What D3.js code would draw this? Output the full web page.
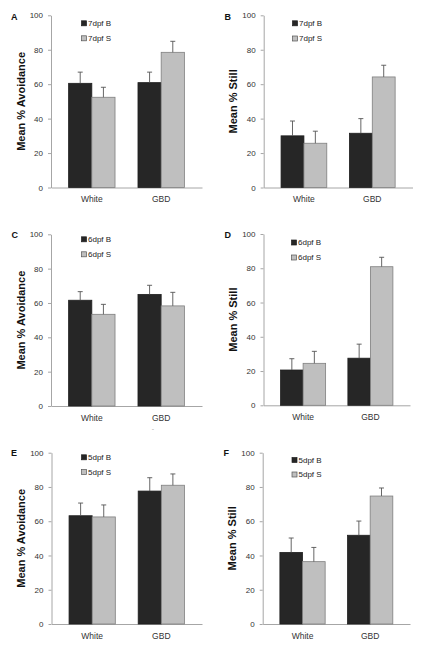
<!DOCTYPE html>
<html>
<head>
<meta charset="utf-8">
<script src="https://cdn.jsdelivr.net/npm/d3@7"></script>
<style>
  html, body { margin: 0; padding: 0; background: #fff; }
  svg { display: block; }
  text { font-family: "Liberation Sans", Arial, sans-serif; }
</style>
</head>
<body>
<svg id="chart" width="432" height="645"></svg>
<script>
// ---------- DATA ----------
const categories = ["White", "GBD"];
const yTicks = [0, 20, 40, 60, 80, 100];
const panelLetters = ["A", "B", "C", "D", "E", "F"];
const yTitles = ["Mean % Avoidance", "Mean % Still", "Mean % Avoidance", "Mean % Still", "Mean % Avoidance", "Mean % Still"];
const legendA = ["7dpf B", "7dpf S"];
const legendC = ["6dpf B", "6dpf S"];
const legendE = ["5dpf B", "5dpf S"];

// Panel A: 7dpf avoidance
const aMeanB = [60.5, 60.9], aMeanS = [52.4, 78.5];
const aErrB = [6.5, 6.1], aErrS = [5.8, 6.4];
// Panel B: 7dpf still
const bMeanB = [30.0, 31.5], bMeanS = [25.7, 64.2];
const bErrB = [8.6, 8.5], bErrS = [7.0, 6.8];
// Panel C: 6dpf avoidance
const cMeanB = [61.6, 65.0], cMeanS = [53.4, 58.3];
const cErrB = [5.0, 5.3], cErrS = [5.8, 7.9];
// Panel D: 6dpf still
const dMeanB = [20.6, 27.5], dMeanS = [24.5, 80.9];
const dErrB = [6.6, 8.2], dErrS = [7.0, 5.5];
// Panel E: 5dpf avoidance
const eMeanB = [63.2, 77.6], eMeanS = [62.5, 81.0];
const eErrB = [7.4, 7.8], eErrS = [7.0, 6.6];
// Panel F: 5dpf still
const fMeanB = [41.8, 51.8], fMeanS = [36.4, 74.7];
const fErrB = [8.4, 8.3], fErrS = [8.3, 4.7];

const panelData = [
  {legend: legendA, meanB: aMeanB, meanS: aMeanS, errB: aErrB, errS: aErrS},
  {legend: legendA, meanB: bMeanB, meanS: bMeanS, errB: bErrB, errS: bErrS},
  {legend: legendC, meanB: cMeanB, meanS: cMeanS, errB: cErrB, errS: cErrS},
  {legend: legendC, meanB: dMeanB, meanS: dMeanS, errB: dErrB, errS: dErrS},
  {legend: legendE, meanB: eMeanB, meanS: eMeanS, errB: eErrB, errS: eErrS},
  {legend: legendE, meanB: fMeanB, meanS: fMeanS, errB: fErrB, errS: fErrS}
];

// ---------- LAYOUT ----------
const layout = [
  {x0: 51,    x1: 202,   yTop: 15.3,  yBot: 187.5, letter: [11, 20],     leg: [81.5, 23.3, 38.3]},
  {x0: 263.7, x1: 412.5, yTop: 15.3,  yBot: 187.5, letter: [224.5, 20],  leg: [292.5, 23.3, 38.5]},
  {x0: 51,    x1: 202,   yTop: 234.3, yBot: 406,   letter: [11.5, 238.3],leg: [81.5, 239.3, 254.3]},
  {x0: 263.5, x1: 410,   yTop: 234,   yBot: 405.3, letter: [224.5, 238.3],leg: [291.5, 242.5, 257.5]},
  {x0: 51.5,  x1: 202,   yTop: 452.7, yBot: 624,   letter: [11, 456],    leg: [81.5, 457.3, 472]},
  {x0: 262.7, x1: 410,   yTop: 452.7, yBot: 624,   letter: [223.5, 456], leg: [292, 460, 474.5]}
];

const colB = "#262626", colS = "#bfbfbf", colSStroke = "#7f7f7f";
const axisCol = "#a6a6a6", textCol = "#333";

const svg = d3.select("#chart");
svg.append("rect").attr("width", 432).attr("height", 645).attr("fill", "#fff");

panelData.forEach((pd, i) => {
  const L = layout[i];
  const g = svg.append("g");
  const y = d3.scaleLinear().domain([0, 100]).range([L.yBot, L.yTop]);
  const x = d3.scaleBand().domain(categories).range([L.x0, L.x1]).paddingInner(0.331).paddingOuter(0.254);
  const sub = d3.scaleBand().domain(["B", "S"]).range([0, x.bandwidth()]);

  // Y axis
  const ya = g.append("g").attr("transform", `translate(${L.x0},0)`)
    .call(d3.axisLeft(y).tickValues(yTicks).tickSize(3).tickSizeOuter(0).tickPadding(5));
  ya.select(".domain").attr("stroke", axisCol);
  ya.selectAll(".tick line").attr("stroke", axisCol);
  ya.selectAll(".tick text").attr("fill", textCol).style("font-size", "8px");

  // X axis
  const xa = g.append("g").attr("transform", `translate(0,${L.yBot})`)
    .call(d3.axisBottom(x).tickSize(0).tickSizeOuter(0).tickPadding(8.5));
  xa.select(".domain").attr("stroke", axisCol);
  xa.selectAll(".tick text").attr("fill", textCol).style("font-size", "8.5px");

  // Bars
  const rows = categories.map((c, k) => [
    {cat: c, s: "B", v: pd.meanB[k], e: pd.errB[k]},
    {cat: c, s: "S", v: pd.meanS[k], e: pd.errS[k]}
  ]).flat();

  g.selectAll("rect.bar").data(rows).enter().append("rect")
    .attr("class", "bar")
    .attr("x", d => x(d.cat) + sub(d.s))
    .attr("y", d => y(d.v))
    .attr("width", sub.bandwidth())
    .attr("height", d => y(0) - y(d.v))
    .attr("fill", d => d.s === "B" ? colB : colS)
    .attr("stroke", d => d.s === "B" ? "#1f1f1f" : colSStroke)
    .attr("stroke-width", 0.8);

  // Error bars (upper only)
  const eb = g.selectAll("g.err").data(rows).enter().append("g").attr("class", "err");
  eb.append("line")
    .attr("x1", d => x(d.cat) + sub(d.s) + sub.bandwidth() / 2)
    .attr("x2", d => x(d.cat) + sub(d.s) + sub.bandwidth() / 2)
    .attr("y1", d => y(d.v))
    .attr("y2", d => y(d.v + d.e))
    .attr("stroke", "#555").attr("stroke-width", 0.9);
  eb.append("line")
    .attr("x1", d => x(d.cat) + sub(d.s) + sub.bandwidth() / 2 - 2.5)
    .attr("x2", d => x(d.cat) + sub(d.s) + sub.bandwidth() / 2 + 2.5)
    .attr("y1", d => y(d.v + d.e))
    .attr("y2", d => y(d.v + d.e))
    .attr("stroke", "#555").attr("stroke-width", 0.9);

  // Y title
  const cy = (L.yTop + L.yBot) / 2;
  g.append("text")
    .attr("transform", `translate(${L.x0 - 26.5},${cy}) rotate(-90)`)
    .attr("text-anchor", "middle")
    .attr("fill", "#111")
    .style("font-size", "11px").style("font-weight", "bold")
    .text(yTitles[i]);

  // Panel letter
  g.append("text")
    .attr("x", L.letter[0]).attr("y", L.letter[1])
    .attr("fill", "#111")
    .style("font-size", "9px").style("font-weight", "bold")
    .text(panelLetters[i]);

  // Legend
  const legRows = [L.leg[1], L.leg[2]];
  pd.legend.forEach((name, k) => {
    g.append("rect")
      .attr("x", L.leg[0]).attr("y", legRows[k] - 2.5)
      .attr("width", 5).attr("height", 5)
      .attr("fill", k === 0 ? colB : colS)
      .attr("stroke", k === 0 ? "#1f1f1f" : "#555").attr("stroke-width", 0.7);
    g.append("text")
      .attr("x", L.leg[0] + 6.5).attr("y", legRows[k])
      .attr("dy", "0.35em")
      .attr("fill", "#222")
      .style("font-size", "8px")
      .text(name);
  });
});

// small stray mark below panel C
svg.append("text").attr("x", 153).attr("y", 431).attr("text-anchor", "middle")
  .attr("fill", "#aaa").style("font-size", "7px").text("-");
</script>
</body>
</html>
